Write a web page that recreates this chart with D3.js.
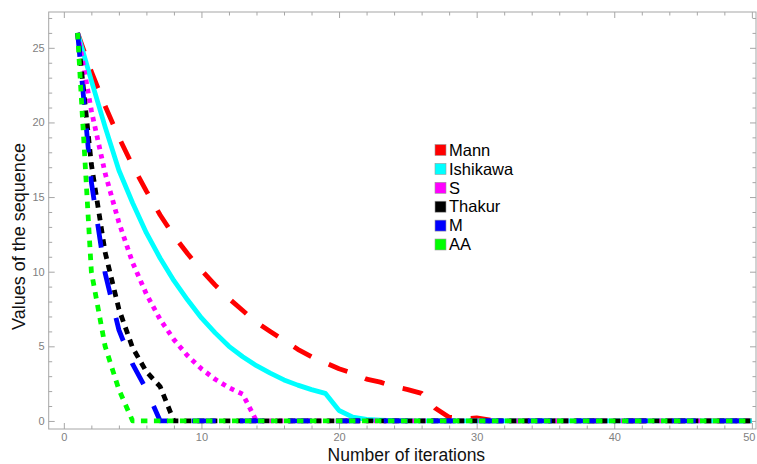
<!DOCTYPE html>
<html>
<head>
<meta charset="utf-8">
<script src="https://cdn.jsdelivr.net/npm/d3@7"></script>
<style>
  body { margin: 0; background: #fff; }
  svg { display: block; }
</style>
</head>
<body>
<svg id="chart" width="757" height="464"></svg>
<script>
// Iteration index (x) for every sequence
const iterations = [1, 2, 3, 4, 5, 6, 7, 8, 9, 10, 11, 12, 13, 14, 15, 16, 17, 18, 19, 20,
  21, 22, 23, 24, 25, 26, 27, 28, 29, 30, 31, 32, 33, 34, 35, 36, 37, 38, 39, 40,
  41, 42, 43, 44, 45, 46, 47, 48, 49, 50];

// Values of each iterative scheme
const mann = [26, 23.4, 21.1, 19.0, 17.1, 15.4, 13.8, 12.4, 11.2, 10.1, 9.1, 8.2, 7.4, 6.6, 6.0,
  5.4, 4.8, 4.3, 3.9, 3.5, 3.2, 2.8, 2.6, 2.3, 2.1, 1.85, 0.85, 0.25, 0.15, 0.2, 0.05, 0,
  0, 0, 0, 0, 0, 0, 0, 0, 0, 0, 0, 0, 0, 0, 0, 0, 0, 0];
const ishikawa = [26, 22.8, 19.7, 16.8, 14.6, 12.6, 10.9, 9.4, 8.1, 6.9, 5.9, 5.0, 4.3, 3.7, 3.2,
  2.75, 2.4, 2.1, 1.85, 0.7, 0.25, 0.1, 0.05, 0.02, 0, 0, 0, 0, 0, 0, 0, 0,
  0, 0, 0, 0, 0, 0, 0, 0, 0, 0, 0, 0, 0, 0, 0, 0, 0, 0];
const sIter = [26, 20.8, 16.6, 13.3, 10.6, 8.5, 6.8, 5.45, 4.36, 3.49, 2.79, 2.23, 1.79, 0, 0,
  0, 0, 0, 0, 0, 0, 0, 0, 0, 0, 0, 0, 0, 0, 0, 0, 0,
  0, 0, 0, 0, 0, 0, 0, 0, 0, 0, 0, 0, 0, 0, 0, 0, 0, 0];
const thakur = [26, 17.2, 11.3, 7.5, 4.9, 3.3, 2.3, 0, 0, 0, 0, 0, 0, 0, 0,
  0, 0, 0, 0, 0, 0, 0, 0, 0, 0, 0, 0, 0, 0, 0, 0, 0,
  0, 0, 0, 0, 0, 0, 0, 0, 0, 0, 0, 0, 0, 0, 0, 0, 0, 0];
const mIter = [26, 16.0, 9.9, 6.1, 3.8, 2.1, 0, 0, 0, 0, 0, 0, 0, 0, 0,
  0, 0, 0, 0, 0, 0, 0, 0, 0, 0, 0, 0, 0, 0, 0, 0, 0,
  0, 0, 0, 0, 0, 0, 0, 0, 0, 0, 0, 0, 0, 0, 0, 0, 0, 0];
const aa = [26, 10.0, 5.0, 2.1, 0, 0, 0, 0, 0, 0, 0, 0, 0, 0, 0,
  0, 0, 0, 0, 0, 0, 0, 0, 0, 0, 0, 0, 0, 0, 0, 0, 0,
  0, 0, 0, 0, 0, 0, 0, 0, 0, 0, 0, 0, 0, 0, 0, 0, 0, 0];

const seriesNames = ["Mann", "Ishikawa", "S", "Thakur", "M", "AA"];
const seriesValues = [mann, ishikawa, sIter, thakur, mIter, aa];

// Tick labels
const xMajorTicks = [0, 10, 20, 30, 40, 50];
const yMajorTicks = [0, 5, 10, 15, 20, 25];

// Styling
const colors = ["#ff0000", "#00ffff", "#ff00ff", "#000000", "#0000ff", "#00ff00"];
const dashes = ["20,19", null, "4.5,5", "7,6", "24,24", "6.5,6.5"];
const frameColor = "#a6a6a6";
const tickTextColor = "#7f7f7f";
const fontFamily = "'Liberation Sans', Arial, sans-serif";

const frame = { left: 48.7, right: 756, top: 12, bottom: 429 };

const x = d3.scaleLinear().domain([-1.1, 50.3]).range([frame.left, frame.right]);
const y = d3.scaleLinear().domain([-0.54, 27.4]).range([frame.bottom, frame.top]);

const svg = d3.select("#chart");

const xMinor = d3.range(0, 51, 2).filter(v => v % 10 !== 0);
const yMinor = d3.range(0, 28, 1).filter(v => v % 5 !== 0);

function styleAxis(g) {
  g.select(".domain").remove();
  g.selectAll(".tick line").attr("stroke", frameColor).attr("stroke-width", 1);
  g.selectAll(".tick text")
    .attr("fill", tickTextColor)
    .style("font-family", fontFamily)
    .style("font-size", "11px");
}

// Bottom axis: labelled majors and unlabelled minors, ticks pointing inward
svg.append("g").attr("transform", `translate(0,${frame.bottom})`)
  .call(d3.axisBottom(x).tickValues(xMajorTicks).tickSizeInner(-6).tickSizeOuter(0).tickPadding(4)
    .tickFormat(d3.format("d")))
  .call(styleAxis)
  .call(g => g.selectAll(".tick text").filter(d => d === 50).attr("dx", -3));
svg.append("g").attr("transform", `translate(0,${frame.bottom})`)
  .call(d3.axisBottom(x).tickValues(xMinor).tickSizeInner(-3.5).tickSizeOuter(0).tickFormat(""))
  .call(styleAxis);

// Top axis mirrors the bottom ticks
svg.append("g").attr("transform", `translate(0,${frame.top})`)
  .call(d3.axisTop(x).tickValues(xMajorTicks).tickSizeInner(-6).tickSizeOuter(0).tickFormat(""))
  .call(styleAxis);
svg.append("g").attr("transform", `translate(0,${frame.top})`)
  .call(d3.axisTop(x).tickValues(xMinor).tickSizeInner(-3.5).tickSizeOuter(0).tickFormat(""))
  .call(styleAxis);

// Left axis
svg.append("g").attr("transform", `translate(${frame.left},0)`)
  .call(d3.axisLeft(y).tickValues(yMajorTicks).tickSizeInner(-6).tickSizeOuter(0).tickPadding(4)
    .tickFormat(d3.format("d")))
  .call(styleAxis);
svg.append("g").attr("transform", `translate(${frame.left},0)`)
  .call(d3.axisLeft(y).tickValues(yMinor).tickSizeInner(-3.5).tickSizeOuter(0).tickFormat(""))
  .call(styleAxis);

// Right axis mirrors the left ticks
svg.append("g").attr("transform", `translate(${frame.right},0)`)
  .call(d3.axisRight(y).tickValues(yMajorTicks).tickSizeInner(-6).tickSizeOuter(0).tickFormat(""))
  .call(styleAxis);
svg.append("g").attr("transform", `translate(${frame.right},0)`)
  .call(d3.axisRight(y).tickValues(yMinor).tickSizeInner(-3.5).tickSizeOuter(0).tickFormat(""))
  .call(styleAxis);

// Frame
svg.append("rect")
  .attr("x", frame.left).attr("y", frame.top)
  .attr("width", frame.right - frame.left).attr("height", frame.bottom - frame.top)
  .attr("fill", "none").attr("stroke", frameColor).attr("stroke-width", 1);

// Clip lines to the frame
svg.append("clipPath").attr("id", "plot-clip")
  .append("rect")
  .attr("x", frame.left).attr("y", frame.top)
  .attr("width", frame.right - frame.left).attr("height", frame.bottom - frame.top);

const line = d3.line()
  .x((d, i) => x(iterations[i]))
  .y(d => y(d));

const plot = svg.append("g").attr("clip-path", "url(#plot-clip)");
seriesValues.forEach((vals, k) => {
  plot.append("path")
    .datum(vals)
    .attr("d", line)
    .attr("fill", "none")
    .attr("stroke", colors[k])
    .attr("stroke-width", 4.8)
    .attr("stroke-linejoin", "round")
    .attr("stroke-linecap", "butt")
    .attr("stroke-dasharray", dashes[k]);
});

// Legend
const legend = svg.append("g").attr("transform", "translate(435,150)");
seriesNames.forEach((name, k) => {
  const row = legend.append("g").attr("transform", `translate(0,${k * 18.9})`);
  row.append("rect")
    .attr("x", 0).attr("y", -5.5).attr("width", 11).attr("height", 11)
    .attr("fill", colors[k]).attr("stroke", "#9a9a9a").attr("stroke-width", 0.6);
  row.append("text")
    .attr("x", 14).attr("y", 0).attr("dy", "0.35em")
    .style("font-family", fontFamily).style("font-size", "16.5px")
    .attr("fill", "#000")
    .text(name);
});

// Axis titles
svg.append("text")
  .attr("x", (frame.left + frame.right) / 2 + 4).attr("y", 461)
  .attr("text-anchor", "middle")
  .style("font-family", fontFamily).style("font-size", "17.5px")
  .attr("fill", "#111")
  .text("Number of iterations");

svg.append("text")
  .attr("transform", `translate(25,${(frame.top + frame.bottom) / 2 + 16}) rotate(-90)`)
  .attr("text-anchor", "middle")
  .style("font-family", fontFamily).style("font-size", "18px")
  .attr("fill", "#111")
  .text("Values of the sequence");
</script>
</body>
</html>
